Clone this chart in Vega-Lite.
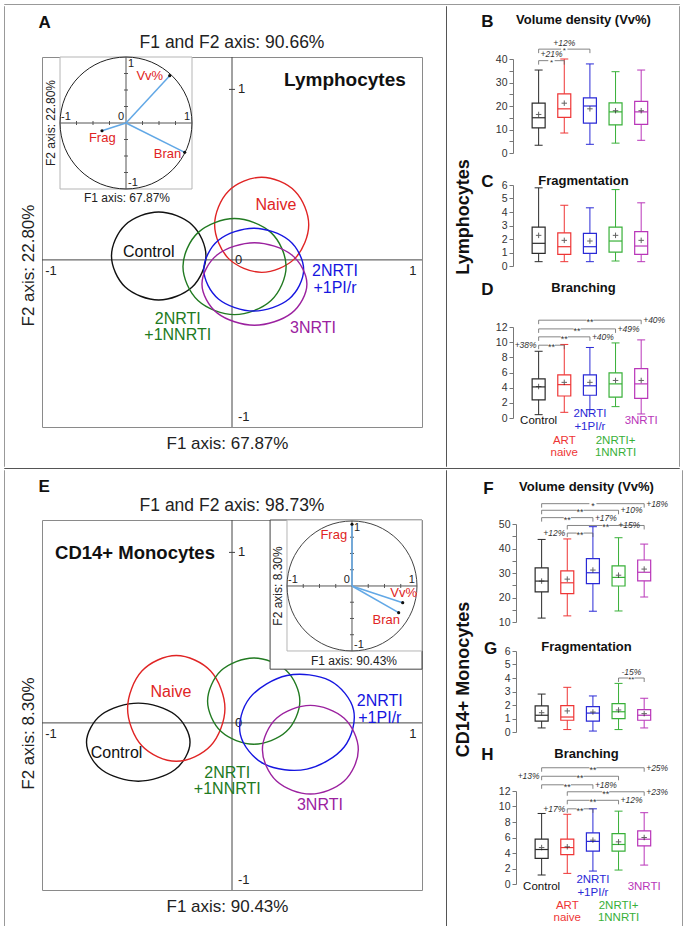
{
"$schema":"https://vega.github.io/schema/vega-lite/v6.json",
"padding":{"left":3,"top":3,"right":6,"bottom":4},
"background":"white",
"config":{"font":"Liberation Sans","view":{"stroke":"#8a8a8a","strokeWidth":1},"concat":{"spacing":0}},
"datasets":{
"ellA":[
{"g":"Control","i":0,"x":-0.144,"y":0.023},{"g":"Control","i":1,"x":-0.22,"y":0.205},{"g":"Control","i":2,"x":-0.405,"y":0.281},{"g":"Control","i":3,"x":-0.59,"y":0.205},{"g":"Control","i":4,"x":-0.666,"y":0.023},{"g":"Control","i":5,"x":-0.59,"y":-0.159},{"g":"Control","i":6,"x":-0.405,"y":-0.235},{"g":"Control","i":7,"x":-0.22,"y":-0.159},
{"g":"Naive","i":0,"x":0.424,"y":0.206},{"g":"Naive","i":1,"x":0.348,"y":0.403},{"g":"Naive","i":2,"x":0.164,"y":0.485},{"g":"Naive","i":3,"x":-0.02,"y":0.403},{"g":"Naive","i":4,"x":-0.096,"y":0.206},{"g":"Naive","i":5,"x":-0.02,"y":0.009},{"g":"Naive","i":6,"x":0.164,"y":-0.073},{"g":"Naive","i":7,"x":0.348,"y":0.009},
{"g":"NNRTI","i":0,"x":0.299,"y":-0.039},{"g":"NNRTI","i":1,"x":0.216,"y":0.16},{"g":"NNRTI","i":2,"x":0.014,"y":0.243},{"g":"NNRTI","i":3,"x":-0.188,"y":0.16},{"g":"NNRTI","i":4,"x":-0.271,"y":-0.039},{"g":"NNRTI","i":5,"x":-0.188,"y":-0.238},{"g":"NNRTI","i":6,"x":0.014,"y":-0.321},{"g":"NNRTI","i":7,"x":0.216,"y":-0.238},
{"g":"PI","i":0,"x":0.396,"y":-0.057},{"g":"PI","i":1,"x":0.315,"y":0.115},{"g":"PI","i":2,"x":0.12,"y":0.186},{"g":"PI","i":3,"x":-0.075,"y":0.115},{"g":"PI","i":4,"x":-0.156,"y":-0.057},{"g":"PI","i":5,"x":-0.075,"y":-0.229},{"g":"PI","i":6,"x":0.12,"y":-0.3},{"g":"PI","i":7,"x":0.315,"y":-0.229},
{"g":"3NRTI","i":0,"x":0.414,"y":-0.141},{"g":"3NRTI","i":1,"x":0.329,"y":0.03},{"g":"3NRTI","i":2,"x":0.124,"y":0.101},{"g":"3NRTI","i":3,"x":-0.081,"y":0.03},{"g":"3NRTI","i":4,"x":-0.166,"y":-0.141},{"g":"3NRTI","i":5,"x":-0.081,"y":-0.312},{"g":"3NRTI","i":6,"x":0.124,"y":-0.383},{"g":"3NRTI","i":7,"x":0.329,"y":-0.312}
],
"ellE":[
{"g":"Control","i":0,"x":-0.232,"y":-0.113},{"g":"Control","i":1,"x":-0.316,"y":0.049},{"g":"Control","i":2,"x":-0.518,"y":0.116},{"g":"Control","i":3,"x":-0.72,"y":0.049},{"g":"Control","i":4,"x":-0.804,"y":-0.113},{"g":"Control","i":5,"x":-0.72,"y":-0.275},{"g":"Control","i":6,"x":-0.518,"y":-0.342},{"g":"Control","i":7,"x":-0.316,"y":-0.275},
{"g":"Naive","i":0,"x":-0.039,"y":0.085},{"g":"Naive","i":1,"x":-0.118,"y":0.304},{"g":"Naive","i":2,"x":-0.308,"y":0.395},{"g":"Naive","i":3,"x":-0.498,"y":0.304},{"g":"Naive","i":4,"x":-0.577,"y":0.085},{"g":"Naive","i":5,"x":-0.498,"y":-0.134},{"g":"Naive","i":6,"x":-0.308,"y":-0.225},{"g":"Naive","i":7,"x":-0.118,"y":-0.134},
{"g":"NNRTI","i":0,"x":0.375,"y":0.128},{"g":"NNRTI","i":1,"x":0.3,"y":0.307},{"g":"NNRTI","i":2,"x":0.12,"y":0.381},{"g":"NNRTI","i":3,"x":-0.06,"y":0.307},{"g":"NNRTI","i":4,"x":-0.135,"y":0.128},{"g":"NNRTI","i":5,"x":-0.06,"y":-0.051},{"g":"NNRTI","i":6,"x":0.12,"y":-0.125},{"g":"NNRTI","i":7,"x":0.3,"y":-0.051},
{"g":"PI","i":0,"x":0.672,"y":0.075},{"g":"PI","i":1,"x":0.62,"y":-0.141},{"g":"PI","i":2,"x":0.414,"y":-0.271},{"g":"PI","i":3,"x":0.177,"y":-0.241},{"g":"PI","i":4,"x":0.046,"y":-0.067},{"g":"PI","i":5,"x":0.098,"y":0.147},{"g":"PI","i":6,"x":0.304,"y":0.278},{"g":"PI","i":7,"x":0.541,"y":0.248},
{"g":"3NRTI","i":0,"x":0.698,"y":-0.157},{"g":"3NRTI","i":1,"x":0.62,"y":0.027},{"g":"3NRTI","i":2,"x":0.433,"y":0.103},{"g":"3NRTI","i":3,"x":0.246,"y":0.027},{"g":"3NRTI","i":4,"x":0.168,"y":-0.157},{"g":"3NRTI","i":5,"x":0.246,"y":-0.341},{"g":"3NRTI","i":6,"x":0.433,"y":-0.417},{"g":"3NRTI","i":7,"x":0.62,"y":-0.341}
],
"lblA":[{"g":"Naive","x":0.243,"y":0.321,"t":"Naive"},{"g":"Control","x":-0.46,"y":0.045,"t":"Control"},{"g":"NNRTI","x":-0.3,"y":-0.345,"t":["2NRTI","+1NNRTI"]},{"g":"PI","x":0.569,"y":-0.066,"t":["2NRTI","+1PI/r"]},{"g":"3NRTI","x":0.448,"y":-0.4,"t":"3NRTI"}],
"lblE":[{"g":"Naive","x":-0.337,"y":0.184,"t":"Naive"},{"g":"Control","x":-0.638,"y":-0.178,"t":"Control"},{"g":"NNRTI","x":-0.026,"y":-0.292,"t":["2NRTI","+1NNRTI"]},{"g":"PI","x":0.817,"y":0.127,"t":["2NRTI","+1PI/r"]},{"g":"3NRTI","x":0.486,"y":-0.484,"t":"3NRTI"}],
"mtl":[{"x":-1,"y":0,"t":"-1","k":"X"},{"x":1,"y":0,"t":"1","k":"X"},{"x":0,"y":0,"t":"0","k":"Z"},{"x":0,"y":1,"t":"1","k":"Y"},{"x":0,"y":-1,"t":"-1","k":"N"}],
"circ":[{"i":0,"x":1,"y":0},{"i":1,"x":0.924,"y":0.383},{"i":2,"x":0.707,"y":0.707},{"i":3,"x":0.383,"y":0.924},{"i":4,"x":0,"y":1},{"i":5,"x":-0.383,"y":0.924},{"i":6,"x":-0.707,"y":0.707},{"i":7,"x":-0.924,"y":0.383},{"i":8,"x":-1,"y":0},{"i":9,"x":-0.924,"y":-0.383},{"i":10,"x":-0.707,"y":-0.707},{"i":11,"x":-0.383,"y":-0.924},{"i":12,"x":0,"y":-1},{"i":13,"x":0.383,"y":-0.924},{"i":14,"x":0.707,"y":-0.707},{"i":15,"x":0.924,"y":-0.383}],
"itk":[{"v":-0.75,"z":0},{"v":-0.5,"z":0},{"v":-0.25,"z":0},{"v":0.25,"z":0},{"v":0.5,"z":0},{"v":0.75,"z":0}],
"iax":[{"a":-1,"b":1,"z":0}],
"itl":[{"x":-1,"y":0,"t":"-1","k":"L"},{"x":0,"y":0,"t":"0","k":"R"},{"x":1,"y":0,"t":"1","k":"R"},{"x":0,"y":1,"t":"1","k":"T"},{"x":0,"y":-1,"t":"-1","k":"B"}],
"vecA":[{"n":"Vv%","o":0,"x":0.662,"y":0.717,"lx":0.36,"ly":0.71},{"n":"Frag","o":0,"x":-0.364,"y":-0.117,"lx":-0.36,"ly":-0.23},{"n":"Bran","o":0,"x":0.889,"y":-0.444,"lx":0.63,"ly":-0.47}],
"vecE":[{"n":"Frag","o":0,"x":0,"y":0.949,"lx":-0.28,"ly":0.785},{"n":"Vv%","o":0,"x":0.78,"y":-0.257,"lx":0.795,"ly":-0.11},{"n":"Bran","o":0,"x":0.718,"y":-0.41,"lx":0.528,"ly":-0.523}],
"cat":[{"pos":1,"g":"Control","t":"Control","k":"s1","z":0},{"pos":2,"g":"Naive","t":["ART","naive"],"k":"d2","z":0},{"pos":3,"g":"PI","t":["2NRTI","+1PI/r"],"k":"d1","z":0},{"pos":4,"g":"NNRTI","t":["2NRTI+","1NNRTI"],"k":"d2","z":0},{"pos":5,"g":"3NRTI","t":"3NRTI","k":"s1","z":0}],
"box":[
{"p":"B","g":"Control","pos":1,"mn":3.3,"q1":10.7,"md":15.0,"q3":21.2,"mx":35.3,"mean":16.4},
{"p":"B","g":"Naive","pos":2,"mn":8.5,"q1":15.2,"md":18.8,"q3":25.2,"mx":40.0,"mean":21.2},
{"p":"B","g":"PI","pos":3,"mn":3.7,"q1":12.7,"md":20.0,"q3":23.5,"mx":37.9,"mean":18.8},
{"p":"B","g":"NNRTI","pos":4,"mn":4.2,"q1":12.0,"md":17.5,"q3":21.3,"mx":34.6,"mean":18.0},
{"p":"B","g":"3NRTI","pos":5,"mn":5.4,"q1":12.2,"md":17.5,"q3":22.0,"mx":35.3,"mean":18.0},
{"p":"C","g":"Control","pos":1,"mn":0.32,"q1":0.94,"md":1.68,"q3":2.88,"mx":5.79,"mean":2.27},
{"p":"C","g":"Naive","pos":2,"mn":0.32,"q1":0.86,"md":1.43,"q3":2.46,"mx":4.5,"mean":1.9},
{"p":"C","g":"PI","pos":3,"mn":0.32,"q1":0.94,"md":1.43,"q3":2.41,"mx":4.31,"mean":1.85},
{"p":"C","g":"NNRTI","pos":4,"mn":0.37,"q1":1.03,"md":1.85,"q3":2.88,"mx":5.66,"mean":2.27},
{"p":"C","g":"3NRTI","pos":5,"mn":0.32,"q1":0.86,"md":1.48,"q3":2.54,"mx":4.68,"mean":1.9},
{"p":"D","g":"Control","pos":1,"mn":0.44,"q1":2.4,"md":4.1,"q3":5.16,"mx":8.8,"mean":4.15},
{"p":"D","g":"Naive","pos":2,"mn":0.75,"q1":2.9,"md":4.4,"q3":5.7,"mx":9.7,"mean":4.7},
{"p":"D","g":"PI","pos":3,"mn":1.1,"q1":3.0,"md":4.25,"q3":5.7,"mx":9.3,"mean":4.7},
{"p":"D","g":"NNRTI","pos":4,"mn":1.5,"q1":2.75,"md":4.5,"q3":5.95,"mx":9.9,"mean":4.95},
{"p":"D","g":"3NRTI","pos":5,"mn":0.53,"q1":2.6,"md":4.5,"q3":6.5,"mx":10.3,"mean":4.95},
{"p":"F","g":"Control","pos":1,"mn":11.6,"q1":22.3,"md":26.7,"q3":32.1,"mx":43.7,"mean":26.7},
{"p":"F","g":"Naive","pos":2,"mn":12.5,"q1":21.6,"md":26.0,"q3":30.9,"mx":43.9,"mean":27.5},
{"p":"F","g":"PI","pos":3,"mn":14.4,"q1":25.7,"md":30.1,"q3":35.9,"mx":48.9,"mean":31.2},
{"p":"F","g":"NNRTI","pos":4,"mn":14.5,"q1":24.7,"md":28.2,"q3":32.9,"mx":44.4,"mean":29.1},
{"p":"F","g":"3NRTI","pos":5,"mn":20.2,"q1":26.8,"md":30.3,"q3":35.3,"mx":41.8,"mean":31.6},
{"p":"G","g":"Control","pos":1,"mn":0.3,"q1":0.81,"md":1.24,"q3":1.93,"mx":2.81,"mean":1.43},
{"p":"G","g":"Naive","pos":2,"mn":0.18,"q1":0.87,"md":1.11,"q3":1.96,"mx":3.31,"mean":1.56},
{"p":"G","g":"PI","pos":3,"mn":0.07,"q1":0.81,"md":1.4,"q3":1.88,"mx":2.67,"mean":1.48},
{"p":"G","g":"NNRTI","pos":4,"mn":0.18,"q1":0.99,"md":1.5,"q3":2.1,"mx":3.6,"mean":1.63},
{"p":"G","g":"3NRTI","pos":5,"mn":0.3,"q1":0.87,"md":1.24,"q3":1.66,"mx":2.5,"mean":1.36},
{"p":"H","g":"Control","pos":1,"mn":1.16,"q1":3.3,"md":4.45,"q3":5.8,"mx":9.1,"mean":4.7},
{"p":"H","g":"Naive","pos":2,"mn":1.37,"q1":3.8,"md":4.7,"q3":5.8,"mx":9.0,"mean":4.8},
{"p":"H","g":"PI","pos":3,"mn":1.67,"q1":4.24,"md":5.5,"q3":6.6,"mx":9.7,"mean":5.66},
{"p":"H","g":"NNRTI","pos":4,"mn":1.8,"q1":4.24,"md":5.1,"q3":6.5,"mx":9.4,"mean":5.44},
{"p":"H","g":"3NRTI","pos":5,"mn":2.44,"q1":4.93,"md":5.78,"q3":6.86,"mx":9.2,"mean":6.0}
],
"br":[
{"p":"B","f":1,"t":3,"m":2,"h":44.2,"s":"*","pc":"+12%","ps":"above"},
{"p":"B","f":1,"t":2,"m":1.5,"h":39.3,"s":"*","pc":"+21%","ps":"above"},
{"p":"D","f":1,"t":5,"m":3,"h":12.9,"s":"**","pc":"+40%","ps":"right"},
{"p":"D","f":1,"t":4,"m":2.5,"h":11.75,"s":"**","pc":"+49%","ps":"right"},
{"p":"D","f":1,"t":3,"m":2,"h":10.7,"s":"**","pc":"+40%","ps":"right"},
{"p":"D","f":1,"t":2,"m":1.5,"h":9.6,"s":"**","pc":"+38%","ps":"left"},
{"p":"F","f":1,"t":5,"m":3,"h":58.3,"s":"*","pc":"+18%","ps":"right"},
{"p":"F","f":1,"t":4,"m":2.5,"h":55.6,"s":"**","pc":"+10%","ps":"right"},
{"p":"F","f":1,"t":3,"m":2,"h":52.6,"s":"**","pc":"+17%","ps":"right"},
{"p":"F","f":2,"t":5,"m":3.5,"h":49.4,"s":"**","pc":"+15%","ps":"inner"},
{"p":"F","f":2,"t":3,"m":2.5,"h":46.3,"s":"**","pc":"+12%","ps":"left"},
{"p":"G","f":4,"t":5,"m":4.5,"h":4.0,"s":"**","pc":"-15%","ps":"above"},
{"p":"H","f":1,"t":5,"m":3,"h":15.0,"s":"**","pc":"+25%","ps":"right"},
{"p":"H","f":1,"t":4,"m":2.5,"h":13.9,"s":"**","pc":"+13%","ps":"left"},
{"p":"H","f":1,"t":3,"m":2,"h":12.8,"s":"**","pc":"+18%","ps":"right"},
{"p":"H","f":2,"t":5,"m":3.5,"h":11.9,"s":"**","pc":"+23%","ps":"right"},
{"p":"H","f":2,"t":4,"m":3,"h":10.8,"s":"**","pc":"+12%","ps":"right"},
{"p":"H","f":2,"t":3,"m":2.5,"h":9.7,"s":"**","pc":"+17%","ps":"left"}
]
},
"spacing":0,
"vconcat":[
{"data":{"values":[]},"mark":"point","width":675,"height":0.01,"view":{"stroke":"#999"}},
{"spacing":0,"hconcat":[
 {"data":{"values":[]},"mark":"point","width":0.01,"height":460,"view":{"stroke":"#999"}},
 {"spacing":0,"hconcat":[
  {"data":{"values":[]},"mark":"point","width":13,"height":1,"view":{"stroke":null}},
  {"spacing":0,"vconcat":[
   {"data":{"values":[]},"mark":"point","width":1,"height":8,"view":{"stroke":null}},
   {"spacing":0,"title":{"text":"A","anchor":"start","fontSize":17,"fontWeight":"bold","color":"#111","dx":20,"offset":0.7},
    "vconcat":[
    {"width":380,"height":370,
     "title":{"text":"F1 and F2 axis: 90.66%","fontSize":17.5,"fontWeight":"normal","color":"#222","offset":4,"anchor":"middle","frame":"group"},
     "resolve":{"scale":{"x":"independent","y":"independent"}},
     "layer":[
      {"encoding":{"x":{"type":"quantitative","scale":{"domain":[-1.05,1.05],"nice":false,"zero":false},"axis":{"title":"F1 axis: 67.87%","labels":false,"ticks":false,"domain":false,"grid":false,"titleFontSize":17,"titleFontWeight":"normal","titleColor":"#222","titlePadding":8,"titleX":185}},
                   "y":{"type":"quantitative","scale":{"domain":[-0.98,1.19],"nice":false,"zero":false},"axis":{"title":"F2 axis: 22.80%","labels":false,"ticks":false,"domain":false,"grid":false,"titleFontSize":17,"titleFontWeight":"normal","titleColor":"#222","titlePadding":5,"titleY":208}}},
       "layer":[
       {"data":{"values":[{"v":0}]},"mark":{"type":"rule","color":"#444","strokeWidth":1},"encoding":{"x":{"field":"v"}}},
       {"data":{"values":[{"v":0}]},"mark":{"type":"rule","color":"#444","strokeWidth":1},"encoding":{"y":{"field":"v"}}},
       {"data":{"values":[{"v":1,"z":0}]},"mark":{"type":"rule","color":"#444","xOffset":-3,"x2Offset":3},"encoding":{"x":{"field":"z"},"x2":{"field":"z"},"y":{"field":"v"}}},
       {"data":{"name":"mtl"},"transform":[{"filter":"datum.k=='X'"}],"mark":{"type":"text","fontSize":13,"color":"#222","baseline":"top","dy":5},"encoding":{"x":{"field":"x"},"y":{"field":"y"},"text":{"field":"t","type":"nominal"}}},
       {"data":{"name":"mtl"},"transform":[{"filter":"datum.k=='Z'"}],"mark":{"type":"text","fontSize":13,"color":"#222","align":"left","baseline":"middle","dx":3},"encoding":{"x":{"field":"x"},"y":{"field":"y"},"text":{"field":"t","type":"nominal"}}},
       {"data":{"name":"mtl"},"transform":[{"filter":"datum.k=='Y'"}],"mark":{"type":"text","fontSize":13,"color":"#222","align":"left","baseline":"middle","dx":6},"encoding":{"x":{"field":"x"},"y":{"field":"y"},"text":{"field":"t","type":"nominal"}}},
       {"data":{"name":"mtl"},"transform":[{"filter":"datum.k=='N'"}],"mark":{"type":"text","fontSize":13,"color":"#222","align":"left","baseline":"bottom","dx":6,"dy":-6},"encoding":{"x":{"field":"x"},"y":{"field":"y"},"text":{"field":"t","type":"nominal"}}},
       {"data":{"name":"ellA"},"mark":{"type":"line","interpolate":"cardinal-closed","strokeWidth":1.4},
        "encoding":{"x":{"field":"x"},"y":{"field":"y"},"color":{"field":"g","type":"nominal","scale":{"domain":["Control","Naive","NNRTI","PI","3NRTI"],"range":["#111111","#e02424","#217a21","#1616e0","#9b219f"]},"legend":null},"order":{"field":"i","type":"quantitative"}}},
       {"data":{"name":"lblA"},"mark":{"type":"text","fontSize":16,"lineHeight":16.5,"baseline":"middle"},
        "encoding":{"x":{"field":"x"},"y":{"field":"y"},"text":{"field":"t","type":"nominal"},"color":{"field":"g","type":"nominal","scale":{"domain":["Control","Naive","NNRTI","PI","3NRTI"],"range":["#111111","#e02424","#217a21","#1616e0","#9b219f"]},"legend":null}}},
       {"data":{"values":[{"x":0.624,"y":1.056,"t":"Lymphocytes"}]},"mark":{"type":"text","fontSize":19,"fontWeight":"bold","color":"#111","baseline":"middle"},"encoding":{"x":{"field":"x"},"y":{"field":"y"},"text":{"field":"t","type":"nominal"}}}
      ]},
      {"encoding":{"x":{"type":"quantitative","scale":{"domain":[-1.273,4.485],"nice":false,"zero":false},"axis":null},"y":{"type":"quantitative","scale":{"domain":[-4.606,1.0],"nice":false,"zero":false},"axis":null}},
       "layer":[
       {"data":{"values":[{"x":-1,"x2":1,"y":-1,"y2":1}]},"mark":{"type":"rect","fill":"white","stroke":"#b5b5b5","strokeWidth":1},"encoding":{"x":{"field":"x"},"x2":{"field":"x2"},"y":{"field":"y"},"y2":{"field":"y2"}}},
       {"data":{"name":"circ"},"mark":{"type":"line","interpolate":"cardinal-closed","color":"#222","strokeWidth":1},"encoding":{"x":{"field":"x"},"y":{"field":"y"},"order":{"field":"i","type":"quantitative"}}},
       {"data":{"name":"iax"},"mark":{"type":"rule","color":"#555"},"encoding":{"x":{"field":"a"},"x2":{"field":"b"},"y":{"field":"z"}}},
       {"data":{"name":"iax"},"mark":{"type":"rule","color":"#555"},"encoding":{"y":{"field":"a"},"y2":{"field":"b"},"x":{"field":"z"}}},
       {"data":{"name":"itk"},"mark":{"type":"rule","color":"#555","yOffset":-2,"y2Offset":2},"encoding":{"x":{"field":"v"},"y":{"field":"z"},"y2":{"field":"z"}}},
       {"data":{"name":"itk"},"mark":{"type":"rule","color":"#555","xOffset":-2,"x2Offset":2},"encoding":{"y":{"field":"v"},"x":{"field":"z"},"x2":{"field":"z"}}},
       {"data":{"name":"itl"},"transform":[{"filter":"datum.k=='L'"}],"mark":{"type":"text","fontSize":11,"color":"#222","align":"left","baseline":"bottom","dx":1,"dy":-1},"encoding":{"x":{"field":"x"},"y":{"field":"y"},"text":{"field":"t","type":"nominal"}}},
       {"data":{"name":"itl"},"transform":[{"filter":"datum.k=='R'"}],"mark":{"type":"text","fontSize":11,"color":"#222","align":"right","baseline":"bottom","dx":-2,"dy":-1},"encoding":{"x":{"field":"x"},"y":{"field":"y"},"text":{"field":"t","type":"nominal"}}},
       {"data":{"name":"itl"},"transform":[{"filter":"datum.k=='T'"}],"mark":{"type":"text","fontSize":11,"color":"#222","align":"left","baseline":"top","dx":2,"dy":1},"encoding":{"x":{"field":"x"},"y":{"field":"y"},"text":{"field":"t","type":"nominal"}}},
       {"data":{"name":"itl"},"transform":[{"filter":"datum.k=='B'"}],"mark":{"type":"text","fontSize":11,"color":"#222","align":"left","baseline":"bottom","dx":2,"dy":-1},"encoding":{"x":{"field":"x"},"y":{"field":"y"},"text":{"field":"t","type":"nominal"}}},
       {"data":{"name":"vecA"},"mark":{"type":"rule","color":"#62a8e6","strokeWidth":1.5},"encoding":{"x":{"field":"o"},"y":{"field":"o"},"x2":{"field":"x"},"y2":{"field":"y"}}},
       {"data":{"name":"vecA"},"mark":{"type":"point","filled":true,"color":"#111","size":10,"opacity":1},"encoding":{"x":{"field":"x"},"y":{"field":"y"}}},
       {"data":{"name":"vecA"},"mark":{"type":"text","fontSize":13,"color":"#e02424","baseline":"middle"},"encoding":{"x":{"field":"lx"},"y":{"field":"ly"},"text":{"field":"n","type":"nominal"}}},
       {"data":{"values":[{"x":0.015,"y":-1.14,"t":"F1 axis: 67.87%"}]},"mark":{"type":"text","fontSize":12,"color":"#222","baseline":"middle"},"encoding":{"x":{"field":"x"},"y":{"field":"y"},"text":{"field":"t","type":"nominal"}}},
       {"data":{"values":[{"x":-1.13,"y":0,"t":"F2 axis: 22.80%"}]},"mark":{"type":"text","fontSize":12,"color":"#222","baseline":"middle","angle":270},"encoding":{"x":{"field":"x"},"y":{"field":"y"},"text":{"field":"t","type":"nominal"}}}
      ]}
     ]}
    ]}
  ]},
  {"data":{"values":[]},"mark":"point","width":22,"height":1,"view":{"stroke":null}}
 ]},
 {"data":{"values":[]},"mark":"point","width":0.01,"height":460,"view":{"stroke":"#555"}},
 {"spacing":0,"hconcat":[
  {"data":{"values":[]},"mark":"point","width":7,"height":1,"view":{"stroke":null}},
  {"spacing":0,"vconcat":[
   {"data":{"values":[]},"mark":"point","width":1,"height":5.5,"view":{"stroke":null}},
   {"spacing":0,"title":{"text":"Lymphocytes","orient":"left","anchor":"middle","fontSize":18,"fontWeight":"bold","color":"#111","offset":8,"dx":18},
    "vconcat":[
    {"width":141,"height":94,"view":{"stroke":null},
     "title":{"text":"\u00a0\u00a0\u00a0\u00a0\u00a0Volume density (Vv%)","fontSize":13,"fontWeight":"bold","color":"#111","offset":-15,"anchor":"middle","frame":"group"},
     "encoding":{"x":{"type":"quantitative","scale":{"domain":[0,5.5],"nice":false,"zero":false},"axis":null},
                 "y":{"type":"quantitative","scale":{"domain":[0,40],"nice":false},"axis":{"title":"B","titleAngle":0,"titleFontSize":17,"titleFontWeight":"bold","titleColor":"#111","titleX":-26,"titleY":-38,"titleAlign":"center","titleBaseline":"middle","values":[0,5,10,15,20,25,30,35,40],"labelExpr":"datum.value % 10 == 0 ? datum.label : ''","grid":false,"tickSize":4,"domainColor":"#777","tickColor":"#777","labelColor":"#333","labelFontSize":10.5,"labelPadding":2,"labelOverlap":false,"labelBound":false,"labelFlush":false}}},
     "layer":[
      {"data":{"name":"box"},"transform":[{"filter":"datum.p=='B'"}],
       "encoding":{"x":{"field":"pos"},"stroke":{"field":"g","type":"nominal","scale":{"domain":["Control","Naive","PI","NNRTI","3NRTI"],"range":["#2b2b2b","#ee3535","#2a2ad6","#38b038","#b936b9"]},"legend":null}},
       "layer":[
        {"mark":{"type":"rule"},"encoding":{"y":{"field":"mn"},"y2":{"field":"mx"}}},
        {"mark":{"type":"rule","xOffset":-4,"x2Offset":4},"encoding":{"x2":{"field":"pos"},"y":{"field":"mx"}}},
        {"mark":{"type":"rule","xOffset":-4,"x2Offset":4},"encoding":{"x2":{"field":"pos"},"y":{"field":"mn"}}},
        {"mark":{"type":"rect","fill":"white","strokeWidth":1.2,"xOffset":-6.5,"x2Offset":6.5},"encoding":{"x2":{"field":"pos"},"y":{"field":"q1"},"y2":{"field":"q3"}}},
        {"mark":{"type":"rule","xOffset":-6.5,"x2Offset":6.5,"strokeWidth":1.2},"encoding":{"x2":{"field":"pos"},"y":{"field":"md"}}},
        {"mark":{"type":"point","shape":"M-1,0L1,0M0,-1L0,1","size":30,"filled":false,"strokeWidth":1},"encoding":{"y":{"field":"mean"},"stroke":{"value":"#222"}}}
       ]},
      {"data":{"name":"br"},"transform":[{"filter":"datum.p=='B'"}],
       "layer":[
        {"mark":{"type":"rule","color":"#666","strokeWidth":0.8},"encoding":{"x":{"field":"f"},"x2":{"field":"t"},"y":{"field":"h"}}},
        {"mark":{"type":"rule","color":"#666","strokeWidth":0.8,"y2Offset":4},"encoding":{"x":{"field":"f"},"y":{"field":"h"},"y2":{"field":"h"}}},
        {"mark":{"type":"rule","color":"#666","strokeWidth":0.8,"y2Offset":4},"encoding":{"x":{"field":"t"},"y":{"field":"h"},"y2":{"field":"h"}}},
        {"mark":{"type":"point","shape":"square","filled":true,"color":"white","opacity":1,"size":40},"encoding":{"x":{"field":"m"},"y":{"field":"h"}}},
        {"mark":{"type":"text","fontSize":8,"color":"#333","baseline":"middle","dy":2},"encoding":{"x":{"field":"m"},"y":{"field":"h"},"text":{"field":"s","type":"nominal"}}},
        {"transform":[{"filter":"datum.ps=='above'"}],"mark":{"type":"text","fontSize":8.5,"fontStyle":"italic","color":"#333","baseline":"bottom","dy":-1.5},"encoding":{"x":{"field":"m"},"y":{"field":"h"},"text":{"field":"pc","type":"nominal"}}}
       ]}
     ]},
    {"data":{"values":[]},"mark":"point","width":1,"height":12.5,"view":{"stroke":null}},
    {"width":141,"height":81,"view":{"stroke":null},
     "title":{"text":"\u00a0\u00a0\u00a0\u00a0\u00a0Fragmentation","fontSize":13,"fontWeight":"bold","color":"#111","offset":-15,"anchor":"middle","frame":"group"},
     "encoding":{"x":{"type":"quantitative","scale":{"domain":[0,5.5],"nice":false,"zero":false},"axis":null},
                 "y":{"type":"quantitative","scale":{"domain":[0,6],"nice":false},"axis":{"title":"C","titleAngle":0,"titleFontSize":17,"titleFontWeight":"bold","titleColor":"#111","titleX":-26,"titleY":-3.4,"titleAlign":"center","titleBaseline":"middle","values":[0,1,2,3,4,5,6],"grid":false,"tickSize":4,"domainColor":"#777","tickColor":"#777","labelColor":"#333","labelFontSize":10.5,"labelPadding":2,"labelOverlap":false,"labelBound":false,"labelFlush":false}}},
     "layer":[
      {"data":{"name":"box"},"transform":[{"filter":"datum.p=='C'"}],
       "encoding":{"x":{"field":"pos"},"stroke":{"field":"g","type":"nominal","scale":{"domain":["Control","Naive","PI","NNRTI","3NRTI"],"range":["#2b2b2b","#ee3535","#2a2ad6","#38b038","#b936b9"]},"legend":null}},
       "layer":[
        {"mark":{"type":"rule"},"encoding":{"y":{"field":"mn"},"y2":{"field":"mx"}}},
        {"mark":{"type":"rule","xOffset":-4,"x2Offset":4},"encoding":{"x2":{"field":"pos"},"y":{"field":"mx"}}},
        {"mark":{"type":"rule","xOffset":-4,"x2Offset":4},"encoding":{"x2":{"field":"pos"},"y":{"field":"mn"}}},
        {"mark":{"type":"rect","fill":"white","strokeWidth":1.2,"xOffset":-6.5,"x2Offset":6.5},"encoding":{"x2":{"field":"pos"},"y":{"field":"q1"},"y2":{"field":"q3"}}},
        {"mark":{"type":"rule","xOffset":-6.5,"x2Offset":6.5,"strokeWidth":1.2},"encoding":{"x2":{"field":"pos"},"y":{"field":"md"}}},
        {"mark":{"type":"point","shape":"M-1,0L1,0M0,-1L0,1","size":30,"filled":false,"strokeWidth":1},"encoding":{"y":{"field":"mean"},"stroke":{"value":"#222"}}}
       ]}
     ]},
    {"data":{"values":[]},"mark":"point","width":1,"height":7.3,"view":{"stroke":null}},
    {"width":141,"height":91,"view":{"stroke":null},
     "title":{"text":"\u00a0\u00a0\u00a0\u00a0\u00a0Branching","fontSize":13,"fontWeight":"bold","color":"#111","offset":-15,"anchor":"middle","frame":"group"},
     "encoding":{"x":{"type":"quantitative","scale":{"domain":[0,5.5],"nice":false,"zero":false},"axis":null},
                 "y":{"type":"quantitative","scale":{"domain":[0,12],"nice":false},"axis":{"title":"D","titleAngle":0,"titleFontSize":17,"titleFontWeight":"bold","titleColor":"#111","titleX":-26,"titleY":-37.7,"titleAlign":"center","titleBaseline":"middle","values":[0,2,4,6,8,10,12],"grid":false,"tickSize":4,"domainColor":"#777","tickColor":"#777","labelColor":"#333","labelFontSize":10.5,"labelPadding":2,"labelOverlap":false,"labelBound":false,"labelFlush":false}}},
     "layer":[
      {"data":{"name":"box"},"transform":[{"filter":"datum.p=='D'"}],
       "encoding":{"x":{"field":"pos"},"stroke":{"field":"g","type":"nominal","scale":{"domain":["Control","Naive","PI","NNRTI","3NRTI"],"range":["#2b2b2b","#ee3535","#2a2ad6","#38b038","#b936b9"]},"legend":null}},
       "layer":[
        {"mark":{"type":"rule"},"encoding":{"y":{"field":"mn"},"y2":{"field":"mx"}}},
        {"mark":{"type":"rule","xOffset":-4,"x2Offset":4},"encoding":{"x2":{"field":"pos"},"y":{"field":"mx"}}},
        {"mark":{"type":"rule","xOffset":-4,"x2Offset":4},"encoding":{"x2":{"field":"pos"},"y":{"field":"mn"}}},
        {"mark":{"type":"rect","fill":"white","strokeWidth":1.2,"xOffset":-6.5,"x2Offset":6.5},"encoding":{"x2":{"field":"pos"},"y":{"field":"q1"},"y2":{"field":"q3"}}},
        {"mark":{"type":"rule","xOffset":-6.5,"x2Offset":6.5,"strokeWidth":1.2},"encoding":{"x2":{"field":"pos"},"y":{"field":"md"}}},
        {"mark":{"type":"point","shape":"M-1,0L1,0M0,-1L0,1","size":30,"filled":false,"strokeWidth":1},"encoding":{"y":{"field":"mean"},"stroke":{"value":"#222"}}}
       ]},
      {"data":{"name":"cat"},"transform":[{"filter":"datum.k=='s1'"}],"mark":{"type":"text","fontSize":11.5,"lineHeight":13,"baseline":"middle","dy":2.8},
       "encoding":{"x":{"field":"pos"},"y":{"field":"z"},"text":{"field":"t","type":"nominal"},"fill":{"field":"g","type":"nominal","scale":{"domain":["Control","Naive","PI","NNRTI","3NRTI"],"range":["#111111","#ee3535","#2a2ad6","#38b038","#b936b9"]},"legend":null}}},
      {"data":{"name":"cat"},"transform":[{"filter":"datum.k=='d1'"}],"mark":{"type":"text","fontSize":11.5,"lineHeight":13.5,"baseline":"middle","dy":-4.5},
       "encoding":{"x":{"field":"pos"},"y":{"field":"z"},"text":{"field":"t","type":"nominal"},"fill":{"field":"g","type":"nominal","scale":{"domain":["Control","Naive","PI","NNRTI","3NRTI"],"range":["#111111","#ee3535","#2a2ad6","#38b038","#b936b9"]},"legend":null}}},
      {"data":{"name":"cat"},"transform":[{"filter":"datum.k=='d2'"}],"mark":{"type":"text","fontSize":11.5,"lineHeight":12,"baseline":"middle","dy":22.5},
       "encoding":{"x":{"field":"pos"},"y":{"field":"z"},"text":{"field":"t","type":"nominal"},"fill":{"field":"g","type":"nominal","scale":{"domain":["Control","Naive","PI","NNRTI","3NRTI"],"range":["#111111","#ee3535","#2a2ad6","#38b038","#b936b9"]},"legend":null}}},
      {"data":{"name":"br"},"transform":[{"filter":"datum.p=='D'"}],
       "layer":[
        {"mark":{"type":"rule","color":"#666","strokeWidth":0.8},"encoding":{"x":{"field":"f"},"x2":{"field":"t"},"y":{"field":"h"}}},
        {"mark":{"type":"rule","color":"#666","strokeWidth":0.8,"y2Offset":4},"encoding":{"x":{"field":"f"},"y":{"field":"h"},"y2":{"field":"h"}}},
        {"mark":{"type":"rule","color":"#666","strokeWidth":0.8,"y2Offset":4},"encoding":{"x":{"field":"t"},"y":{"field":"h"},"y2":{"field":"h"}}},
        {"mark":{"type":"point","shape":"square","filled":true,"color":"white","opacity":1,"size":50},"encoding":{"x":{"field":"m"},"y":{"field":"h"}}},
        {"mark":{"type":"text","fontSize":9,"color":"#333","baseline":"middle","dy":2},"encoding":{"x":{"field":"m"},"y":{"field":"h"},"text":{"field":"s","type":"nominal"}}},
        {"transform":[{"filter":"datum.ps=='right'"}],"mark":{"type":"text","fontSize":8.5,"fontStyle":"italic","color":"#333","align":"left","baseline":"middle","dx":2},"encoding":{"x":{"field":"t"},"y":{"field":"h"},"text":{"field":"pc","type":"nominal"}}},
        {"transform":[{"filter":"datum.ps=='left'"}],"mark":{"type":"text","fontSize":8.5,"fontStyle":"italic","color":"#333","align":"right","baseline":"middle","dx":-2},"encoding":{"x":{"field":"f"},"y":{"field":"h"},"text":{"field":"pc","type":"nominal"}}}
       ]}
     ]}
    ]}
  ]},
  {"data":{"values":[]},"mark":"point","width":12,"height":1,"view":{"stroke":null}}
 ]},
 {"data":{"values":[]},"mark":"point","width":0.01,"height":460,"view":{"stroke":"#999"}}
]},
{"data":{"values":[]},"mark":"point","width":675,"height":0.01,"view":{"stroke":"#555"}},
{"spacing":0,"hconcat":[
 {"data":{"values":[]},"mark":"point","width":0.01,"height":459,"view":{"stroke":"#999"}},
 {"spacing":0,"hconcat":[
  {"data":{"values":[]},"mark":"point","width":13,"height":1,"view":{"stroke":null}},
  {"spacing":0,"vconcat":[
   {"data":{"values":[]},"mark":"point","width":1,"height":8,"view":{"stroke":null}},
   {"spacing":0,"title":{"text":"E","anchor":"start","fontSize":17,"fontWeight":"bold","color":"#111","dx":20,"offset":0.7},
    "vconcat":[
    {"width":380,"height":370,
     "title":{"text":"F1 and F2 axis: 98.73%","fontSize":17.5,"fontWeight":"normal","color":"#222","offset":4,"anchor":"middle","frame":"group"},
     "resolve":{"scale":{"x":"independent","y":"independent"}},
     "layer":[
      {"encoding":{"x":{"type":"quantitative","scale":{"domain":[-1.05,1.05],"nice":false,"zero":false},"axis":{"title":"F1 axis: 90.43%","labels":false,"ticks":false,"domain":false,"grid":false,"titleFontSize":17,"titleFontWeight":"normal","titleColor":"#222","titlePadding":8,"titleX":185}},
                   "y":{"type":"quantitative","scale":{"domain":[-0.98,1.19],"nice":false,"zero":false},"axis":{"title":"F2 axis: 8.30%","labels":false,"ticks":false,"domain":false,"grid":false,"titleFontSize":17,"titleFontWeight":"normal","titleColor":"#222","titlePadding":5,"titleY":213}}},
       "layer":[
       {"data":{"values":[{"v":0}]},"mark":{"type":"rule","color":"#444","strokeWidth":1},"encoding":{"x":{"field":"v"}}},
       {"data":{"values":[{"v":0}]},"mark":{"type":"rule","color":"#444","strokeWidth":1},"encoding":{"y":{"field":"v"}}},
       {"data":{"values":[{"v":1,"z":0}]},"mark":{"type":"rule","color":"#444","xOffset":-3,"x2Offset":3},"encoding":{"x":{"field":"z"},"x2":{"field":"z"},"y":{"field":"v"}}},
       {"data":{"name":"mtl"},"transform":[{"filter":"datum.k=='X'"}],"mark":{"type":"text","fontSize":13,"color":"#222","baseline":"top","dy":5},"encoding":{"x":{"field":"x"},"y":{"field":"y"},"text":{"field":"t","type":"nominal"}}},
       {"data":{"name":"mtl"},"transform":[{"filter":"datum.k=='Z'"}],"mark":{"type":"text","fontSize":13,"color":"#222","align":"left","baseline":"middle","dx":3},"encoding":{"x":{"field":"x"},"y":{"field":"y"},"text":{"field":"t","type":"nominal"}}},
       {"data":{"name":"mtl"},"transform":[{"filter":"datum.k=='Y'"}],"mark":{"type":"text","fontSize":13,"color":"#222","align":"left","baseline":"middle","dx":6},"encoding":{"x":{"field":"x"},"y":{"field":"y"},"text":{"field":"t","type":"nominal"}}},
       {"data":{"name":"mtl"},"transform":[{"filter":"datum.k=='N'"}],"mark":{"type":"text","fontSize":13,"color":"#222","align":"left","baseline":"bottom","dx":6,"dy":-6},"encoding":{"x":{"field":"x"},"y":{"field":"y"},"text":{"field":"t","type":"nominal"}}},
       {"data":{"name":"ellE"},"mark":{"type":"line","interpolate":"cardinal-closed","strokeWidth":1.4},
        "encoding":{"x":{"field":"x"},"y":{"field":"y"},"color":{"field":"g","type":"nominal","scale":{"domain":["Control","Naive","NNRTI","PI","3NRTI"],"range":["#111111","#e02424","#217a21","#1616e0","#9b219f"]},"legend":null},"order":{"field":"i","type":"quantitative"}}},
       {"data":{"name":"lblE"},"mark":{"type":"text","fontSize":16,"lineHeight":16.5,"baseline":"middle"},
        "encoding":{"x":{"field":"x"},"y":{"field":"y"},"text":{"field":"t","type":"nominal"},"color":{"field":"g","type":"nominal","scale":{"domain":["Control","Naive","NNRTI","PI","3NRTI"],"range":["#111111","#e02424","#217a21","#1616e0","#9b219f"]},"legend":null}}},
       {"data":{"values":[{"x":-0.536,"y":0.994,"t":"CD14+ Monocytes"}]},"mark":{"type":"text","fontSize":18.5,"fontWeight":"bold","color":"#111","baseline":"middle"},"encoding":{"x":{"field":"x"},"y":{"field":"y"},"text":{"field":"t","type":"nominal"}}}
      ]},
      {"encoding":{"x":{"type":"quantitative","scale":{"domain":[-4.769,1.077],"nice":false,"zero":false},"axis":null},"y":{"type":"quantitative","scale":{"domain":[-4.677,1.015],"nice":false,"zero":false},"axis":null}},
       "layer":[
       {"data":{"values":[{"x":-1.26,"x2":1.077,"y":-1.28,"y2":1.015}]},"mark":{"type":"rect","fill":"white","stroke":"#444","strokeWidth":1},"encoding":{"x":{"field":"x"},"x2":{"field":"x2"},"y":{"field":"y"},"y2":{"field":"y2"}}},
       {"data":{"values":[{"x":-1,"x2":1.077,"y":-1,"y2":1.015}]},"mark":{"type":"rect","fill":"white","stroke":"#b5b5b5","strokeWidth":1},"encoding":{"x":{"field":"x"},"x2":{"field":"x2"},"y":{"field":"y"},"y2":{"field":"y2"}}},
       {"data":{"name":"circ"},"mark":{"type":"line","interpolate":"cardinal-closed","color":"#444","strokeWidth":1},"encoding":{"x":{"field":"x"},"y":{"field":"y"},"order":{"field":"i","type":"quantitative"}}},
       {"data":{"name":"iax"},"mark":{"type":"rule","color":"#555"},"encoding":{"x":{"field":"a"},"x2":{"field":"b"},"y":{"field":"z"}}},
       {"data":{"name":"iax"},"mark":{"type":"rule","color":"#555"},"encoding":{"y":{"field":"a"},"y2":{"field":"b"},"x":{"field":"z"}}},
       {"data":{"name":"itk"},"mark":{"type":"rule","color":"#555","yOffset":-2,"y2Offset":2},"encoding":{"x":{"field":"v"},"y":{"field":"z"},"y2":{"field":"z"}}},
       {"data":{"name":"itk"},"mark":{"type":"rule","color":"#555","xOffset":-2,"x2Offset":2},"encoding":{"y":{"field":"v"},"x":{"field":"z"},"x2":{"field":"z"}}},
       {"data":{"name":"itl"},"transform":[{"filter":"datum.k=='L'"}],"mark":{"type":"text","fontSize":11,"color":"#222","align":"left","baseline":"bottom","dx":1,"dy":-1},"encoding":{"x":{"field":"x"},"y":{"field":"y"},"text":{"field":"t","type":"nominal"}}},
       {"data":{"name":"itl"},"transform":[{"filter":"datum.k=='R'"}],"mark":{"type":"text","fontSize":11,"color":"#222","align":"right","baseline":"bottom","dx":-2,"dy":-1},"encoding":{"x":{"field":"x"},"y":{"field":"y"},"text":{"field":"t","type":"nominal"}}},
       {"data":{"name":"itl"},"transform":[{"filter":"datum.k=='T'"}],"mark":{"type":"text","fontSize":11,"color":"#222","align":"left","baseline":"top","dx":2,"dy":1},"encoding":{"x":{"field":"x"},"y":{"field":"y"},"text":{"field":"t","type":"nominal"}}},
       {"data":{"name":"itl"},"transform":[{"filter":"datum.k=='B'"}],"mark":{"type":"text","fontSize":11,"color":"#222","align":"left","baseline":"bottom","dx":2,"dy":-1},"encoding":{"x":{"field":"x"},"y":{"field":"y"},"text":{"field":"t","type":"nominal"}}},
       {"data":{"name":"vecE"},"mark":{"type":"rule","color":"#62a8e6","strokeWidth":1.5},"encoding":{"x":{"field":"o"},"y":{"field":"o"},"x2":{"field":"x"},"y2":{"field":"y"}}},
       {"data":{"name":"vecE"},"mark":{"type":"point","filled":true,"color":"#111","size":10,"opacity":1},"encoding":{"x":{"field":"x"},"y":{"field":"y"}}},
       {"data":{"name":"vecE"},"mark":{"type":"text","fontSize":13,"color":"#e02424","baseline":"middle"},"encoding":{"x":{"field":"lx"},"y":{"field":"ly"},"text":{"field":"n","type":"nominal"}}},
       {"data":{"values":[{"x":0.03,"y":-1.16,"t":"F1 axis: 90.43%"}]},"mark":{"type":"text","fontSize":12,"color":"#222","baseline":"middle"},"encoding":{"x":{"field":"x"},"y":{"field":"y"},"text":{"field":"t","type":"nominal"}}},
       {"data":{"values":[{"x":-1.14,"y":0,"t":"F2 axis: 8.30%"}]},"mark":{"type":"text","fontSize":12,"color":"#222","baseline":"middle","angle":270},"encoding":{"x":{"field":"x"},"y":{"field":"y"},"text":{"field":"t","type":"nominal"}}}
      ]}
     ]}
    ]}
  ]},
  {"data":{"values":[]},"mark":"point","width":22,"height":1,"view":{"stroke":null}}
 ]},
 {"data":{"values":[]},"mark":"point","width":0.01,"height":459,"view":{"stroke":"#555"}},
 {"spacing":0,"hconcat":[
  {"data":{"values":[]},"mark":"point","width":7,"height":1,"view":{"stroke":null}},
  {"spacing":0,"vconcat":[
   {"data":{"values":[]},"mark":"point","width":1,"height":9,"view":{"stroke":null}},
   {"spacing":0,"title":{"text":"CD14+ Monocytes","orient":"left","anchor":"middle","fontSize":18,"fontWeight":"bold","color":"#111","offset":8,"dx":22},
    "vconcat":[
    {"width":141,"height":98,"view":{"stroke":null},
     "title":{"text":"\u00a0\u00a0\u00a0\u00a0\u00a0Volume density (Vv%)","fontSize":13,"fontWeight":"bold","color":"#111","offset":-15,"anchor":"middle","frame":"group"},
     "encoding":{"x":{"type":"quantitative","scale":{"domain":[0,5.5],"nice":false,"zero":false},"axis":null},
                 "y":{"type":"quantitative","scale":{"domain":[10,50],"nice":false,"zero":false},"axis":{"title":"F","titleAngle":0,"titleFontSize":17,"titleFontWeight":"bold","titleColor":"#111","titleX":-28,"titleY":-35.6,"titleAlign":"center","titleBaseline":"middle","values":[10,15,20,25,30,35,40,45,50],"labelExpr":"datum.value % 10 == 0 ? datum.label : ''","grid":false,"tickSize":4,"domainColor":"#777","tickColor":"#777","labelColor":"#333","labelFontSize":10.5,"labelPadding":2,"labelOverlap":false,"labelBound":false,"labelFlush":false}}},
     "layer":[
      {"data":{"name":"box"},"transform":[{"filter":"datum.p=='F'"}],
       "encoding":{"x":{"field":"pos"},"stroke":{"field":"g","type":"nominal","scale":{"domain":["Control","Naive","PI","NNRTI","3NRTI"],"range":["#2b2b2b","#ee3535","#2a2ad6","#38b038","#b936b9"]},"legend":null}},
       "layer":[
        {"mark":{"type":"rule"},"encoding":{"y":{"field":"mn"},"y2":{"field":"mx"}}},
        {"mark":{"type":"rule","xOffset":-4,"x2Offset":4},"encoding":{"x2":{"field":"pos"},"y":{"field":"mx"}}},
        {"mark":{"type":"rule","xOffset":-4,"x2Offset":4},"encoding":{"x2":{"field":"pos"},"y":{"field":"mn"}}},
        {"mark":{"type":"rect","fill":"white","strokeWidth":1.2,"xOffset":-6.5,"x2Offset":6.5},"encoding":{"x2":{"field":"pos"},"y":{"field":"q1"},"y2":{"field":"q3"}}},
        {"mark":{"type":"rule","xOffset":-6.5,"x2Offset":6.5,"strokeWidth":1.2},"encoding":{"x2":{"field":"pos"},"y":{"field":"md"}}},
        {"mark":{"type":"point","shape":"M-1,0L1,0M0,-1L0,1","size":30,"filled":false,"strokeWidth":1},"encoding":{"y":{"field":"mean"},"stroke":{"value":"#222"}}}
       ]},
      {"data":{"name":"br"},"transform":[{"filter":"datum.p=='F'"}],
       "layer":[
        {"mark":{"type":"rule","color":"#666","strokeWidth":0.8},"encoding":{"x":{"field":"f"},"x2":{"field":"t"},"y":{"field":"h"}}},
        {"mark":{"type":"rule","color":"#666","strokeWidth":0.8,"y2Offset":4},"encoding":{"x":{"field":"f"},"y":{"field":"h"},"y2":{"field":"h"}}},
        {"mark":{"type":"rule","color":"#666","strokeWidth":0.8,"y2Offset":4},"encoding":{"x":{"field":"t"},"y":{"field":"h"},"y2":{"field":"h"}}},
        {"mark":{"type":"point","shape":"square","filled":true,"color":"white","opacity":1,"size":50},"encoding":{"x":{"field":"m"},"y":{"field":"h"}}},
        {"mark":{"type":"text","fontSize":9,"color":"#333","baseline":"middle","dy":2},"encoding":{"x":{"field":"m"},"y":{"field":"h"},"text":{"field":"s","type":"nominal"}}},
        {"transform":[{"filter":"datum.ps=='right'"}],"mark":{"type":"text","fontSize":8.5,"fontStyle":"italic","color":"#333","align":"left","baseline":"middle","dx":2},"encoding":{"x":{"field":"t"},"y":{"field":"h"},"text":{"field":"pc","type":"nominal"}}},
        {"transform":[{"filter":"datum.ps=='left'"}],"mark":{"type":"text","fontSize":8.5,"fontStyle":"italic","color":"#333","align":"right","baseline":"middle","dx":-2},"encoding":{"x":{"field":"f"},"y":{"field":"h"},"text":{"field":"pc","type":"nominal"}}},
        {"transform":[{"filter":"datum.ps=='inner'"}],"mark":{"type":"text","fontSize":8.5,"fontStyle":"italic","color":"#333","align":"right","baseline":"middle","dx":-4},"encoding":{"x":{"field":"t"},"y":{"field":"h"},"text":{"field":"pc","type":"nominal"}}}
       ]}
     ]},
    {"data":{"values":[]},"mark":"point","width":1,"height":11,"view":{"stroke":null}},
    {"width":141,"height":81,"view":{"stroke":null},
     "title":{"text":"\u00a0\u00a0\u00a0\u00a0\u00a0Fragmentation","fontSize":13,"fontWeight":"bold","color":"#111","offset":-15,"anchor":"middle","frame":"group"},
     "encoding":{"x":{"type":"quantitative","scale":{"domain":[0,5.5],"nice":false,"zero":false},"axis":null},
                 "y":{"type":"quantitative","scale":{"domain":[0,6],"nice":false},"axis":{"title":"G","titleAngle":0,"titleFontSize":17,"titleFontWeight":"bold","titleColor":"#111","titleX":-26,"titleY":-2.7,"titleAlign":"center","titleBaseline":"middle","values":[0,1,2,3,4,5,6],"grid":false,"tickSize":4,"domainColor":"#777","tickColor":"#777","labelColor":"#333","labelFontSize":10.5,"labelPadding":2,"labelOverlap":false,"labelBound":false,"labelFlush":false}}},
     "layer":[
      {"data":{"name":"box"},"transform":[{"filter":"datum.p=='G'"}],
       "encoding":{"x":{"field":"pos"},"stroke":{"field":"g","type":"nominal","scale":{"domain":["Control","Naive","PI","NNRTI","3NRTI"],"range":["#2b2b2b","#ee3535","#2a2ad6","#38b038","#b936b9"]},"legend":null}},
       "layer":[
        {"mark":{"type":"rule"},"encoding":{"y":{"field":"mn"},"y2":{"field":"mx"}}},
        {"mark":{"type":"rule","xOffset":-4,"x2Offset":4},"encoding":{"x2":{"field":"pos"},"y":{"field":"mx"}}},
        {"mark":{"type":"rule","xOffset":-4,"x2Offset":4},"encoding":{"x2":{"field":"pos"},"y":{"field":"mn"}}},
        {"mark":{"type":"rect","fill":"white","strokeWidth":1.2,"xOffset":-6.5,"x2Offset":6.5},"encoding":{"x2":{"field":"pos"},"y":{"field":"q1"},"y2":{"field":"q3"}}},
        {"mark":{"type":"rule","xOffset":-6.5,"x2Offset":6.5,"strokeWidth":1.2},"encoding":{"x2":{"field":"pos"},"y":{"field":"md"}}},
        {"mark":{"type":"point","shape":"M-1,0L1,0M0,-1L0,1","size":30,"filled":false,"strokeWidth":1},"encoding":{"y":{"field":"mean"},"stroke":{"value":"#222"}}}
       ]},
      {"data":{"name":"br"},"transform":[{"filter":"datum.p=='G'"}],
       "layer":[
        {"mark":{"type":"rule","color":"#666","strokeWidth":0.8},"encoding":{"x":{"field":"f"},"x2":{"field":"t"},"y":{"field":"h"}}},
        {"mark":{"type":"rule","color":"#666","strokeWidth":0.8,"y2Offset":4},"encoding":{"x":{"field":"f"},"y":{"field":"h"},"y2":{"field":"h"}}},
        {"mark":{"type":"rule","color":"#666","strokeWidth":0.8,"y2Offset":4},"encoding":{"x":{"field":"t"},"y":{"field":"h"},"y2":{"field":"h"}}},
        {"mark":{"type":"point","shape":"square","filled":true,"color":"white","opacity":1,"size":40},"encoding":{"x":{"field":"m"},"y":{"field":"h"}}},
        {"mark":{"type":"text","fontSize":8,"color":"#333","baseline":"middle","dy":2},"encoding":{"x":{"field":"m"},"y":{"field":"h"},"text":{"field":"s","type":"nominal"}}},
        {"transform":[{"filter":"datum.ps=='above'"}],"mark":{"type":"text","fontSize":8.5,"fontStyle":"italic","color":"#333","baseline":"bottom","dy":-1.5},"encoding":{"x":{"field":"m"},"y":{"field":"h"},"text":{"field":"pc","type":"nominal"}}}
       ]}
     ]},
    {"data":{"values":[]},"mark":"point","width":1,"height":6.6,"view":{"stroke":null}},
    {"width":141,"height":93,"view":{"stroke":null},
     "title":{"text":"\u00a0\u00a0\u00a0\u00a0\u00a0Branching","fontSize":13,"fontWeight":"bold","color":"#111","offset":-15,"anchor":"middle","frame":"group"},
     "encoding":{"x":{"type":"quantitative","scale":{"domain":[0,5.5],"nice":false,"zero":false},"axis":null},
                 "y":{"type":"quantitative","scale":{"domain":[0,12],"nice":false},"axis":{"title":"H","titleAngle":0,"titleFontSize":17,"titleFontWeight":"bold","titleColor":"#111","titleX":-29,"titleY":-36.4,"titleAlign":"center","titleBaseline":"middle","values":[0,2,4,6,8,10,12],"grid":false,"tickSize":4,"domainColor":"#777","tickColor":"#777","labelColor":"#333","labelFontSize":10.5,"labelPadding":2,"labelOverlap":false,"labelBound":false,"labelFlush":false}}},
     "layer":[
      {"data":{"name":"box"},"transform":[{"filter":"datum.p=='H'"}],
       "encoding":{"x":{"field":"pos"},"stroke":{"field":"g","type":"nominal","scale":{"domain":["Control","Naive","PI","NNRTI","3NRTI"],"range":["#2b2b2b","#ee3535","#2a2ad6","#38b038","#b936b9"]},"legend":null}},
       "layer":[
        {"mark":{"type":"rule"},"encoding":{"y":{"field":"mn"},"y2":{"field":"mx"}}},
        {"mark":{"type":"rule","xOffset":-4,"x2Offset":4},"encoding":{"x2":{"field":"pos"},"y":{"field":"mx"}}},
        {"mark":{"type":"rule","xOffset":-4,"x2Offset":4},"encoding":{"x2":{"field":"pos"},"y":{"field":"mn"}}},
        {"mark":{"type":"rect","fill":"white","strokeWidth":1.2,"xOffset":-6.5,"x2Offset":6.5},"encoding":{"x2":{"field":"pos"},"y":{"field":"q1"},"y2":{"field":"q3"}}},
        {"mark":{"type":"rule","xOffset":-6.5,"x2Offset":6.5,"strokeWidth":1.2},"encoding":{"x2":{"field":"pos"},"y":{"field":"md"}}},
        {"mark":{"type":"point","shape":"M-1,0L1,0M0,-1L0,1","size":30,"filled":false,"strokeWidth":1},"encoding":{"y":{"field":"mean"},"stroke":{"value":"#222"}}}
       ]},
      {"data":{"name":"cat"},"transform":[{"filter":"datum.k=='s1'"}],"mark":{"type":"text","fontSize":11.5,"lineHeight":13,"baseline":"middle","dy":3},
       "encoding":{"x":{"field":"pos"},"y":{"field":"z"},"text":{"field":"t","type":"nominal"},"fill":{"field":"g","type":"nominal","scale":{"domain":["Control","Naive","PI","NNRTI","3NRTI"],"range":["#111111","#ee3535","#2a2ad6","#38b038","#b936b9"]},"legend":null}}},
      {"data":{"name":"cat"},"transform":[{"filter":"datum.k=='d1'"}],"mark":{"type":"text","fontSize":11.5,"lineHeight":12.8,"baseline":"middle","dy":-4},
       "encoding":{"x":{"field":"pos"},"y":{"field":"z"},"text":{"field":"t","type":"nominal"},"fill":{"field":"g","type":"nominal","scale":{"domain":["Control","Naive","PI","NNRTI","3NRTI"],"range":["#111111","#ee3535","#2a2ad6","#38b038","#b936b9"]},"legend":null}}},
      {"data":{"name":"cat"},"transform":[{"filter":"datum.k=='d2'"}],"mark":{"type":"text","fontSize":11.5,"lineHeight":12.5,"baseline":"middle","dy":21.5},
       "encoding":{"x":{"field":"pos"},"y":{"field":"z"},"text":{"field":"t","type":"nominal"},"fill":{"field":"g","type":"nominal","scale":{"domain":["Control","Naive","PI","NNRTI","3NRTI"],"range":["#111111","#ee3535","#2a2ad6","#38b038","#b936b9"]},"legend":null}}},
      {"data":{"name":"br"},"transform":[{"filter":"datum.p=='H'"}],
       "layer":[
        {"mark":{"type":"rule","color":"#666","strokeWidth":0.8},"encoding":{"x":{"field":"f"},"x2":{"field":"t"},"y":{"field":"h"}}},
        {"mark":{"type":"rule","color":"#666","strokeWidth":0.8,"y2Offset":4},"encoding":{"x":{"field":"f"},"y":{"field":"h"},"y2":{"field":"h"}}},
        {"mark":{"type":"rule","color":"#666","strokeWidth":0.8,"y2Offset":4},"encoding":{"x":{"field":"t"},"y":{"field":"h"},"y2":{"field":"h"}}},
        {"mark":{"type":"point","shape":"square","filled":true,"color":"white","opacity":1,"size":50},"encoding":{"x":{"field":"m"},"y":{"field":"h"}}},
        {"mark":{"type":"text","fontSize":9,"color":"#333","baseline":"middle","dy":2},"encoding":{"x":{"field":"m"},"y":{"field":"h"},"text":{"field":"s","type":"nominal"}}},
        {"transform":[{"filter":"datum.ps=='right'"}],"mark":{"type":"text","fontSize":8.5,"fontStyle":"italic","color":"#333","align":"left","baseline":"middle","dx":2},"encoding":{"x":{"field":"t"},"y":{"field":"h"},"text":{"field":"pc","type":"nominal"}}},
        {"transform":[{"filter":"datum.ps=='left'"}],"mark":{"type":"text","fontSize":8.5,"fontStyle":"italic","color":"#333","align":"right","baseline":"middle","dx":-2},"encoding":{"x":{"field":"f"},"y":{"field":"h"},"text":{"field":"pc","type":"nominal"}}}
       ]}
     ]}
    ]}
  ]},
  {"data":{"values":[]},"mark":"point","width":12,"height":1,"view":{"stroke":null}}
 ]},
 {"data":{"values":[]},"mark":"point","width":0.01,"height":459,"view":{"stroke":"#999"}}
]},
{"data":{"values":[]},"mark":"point","width":675,"height":0.01,"view":{"stroke":"#999"}}
]
}
